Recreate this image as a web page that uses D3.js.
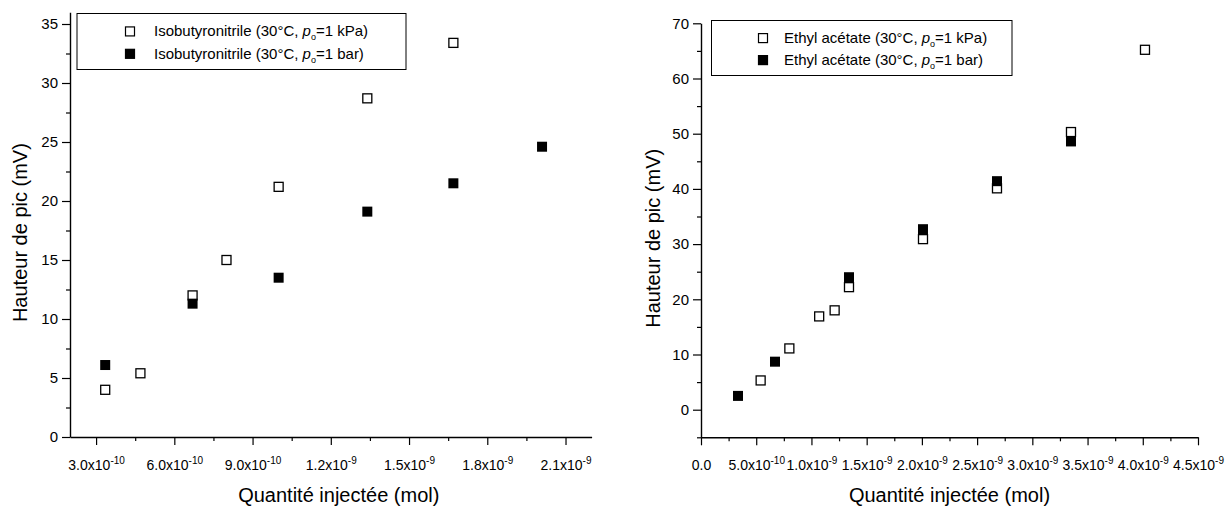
<!DOCTYPE html>
<html>
<head>
<meta charset="utf-8">
<script src="https://cdn.jsdelivr.net/npm/d3@7"></script>
<style>
  html, body { margin: 0; padding: 0; background: #fff; }
  svg { display: block; font-family: "Liberation Sans", Arial, sans-serif; }
</style>
</head>
<body>
<svg id="chart" width="1227" height="510"></svg>
<script>
// ---------- DATA ----------
// Left panel: Isobutyronitrile
const leftOpenX   = [3.35e-10, 4.7e-10, 6.7e-10, 8.0e-10, 1.0e-9, 1.34e-9, 1.67e-9];
const leftOpenY   = [4.0, 5.4, 12.0, 15.0, 21.2, 28.7, 33.4];
const leftFilledX = [3.35e-10, 6.7e-10, 1.0e-9, 1.34e-9, 1.67e-9, 2.01e-9];
const leftFilledY = [6.1, 11.3, 13.5, 19.1, 21.5, 24.6];
const leftLegend  = ["Isobutyronitrile (30°C, ", "=1 kPa)", "=1 bar)"];
const leftXTicks  = [3e-10, 6e-10, 9e-10, 1.2e-9, 1.5e-9, 1.8e-9, 2.1e-9];
const leftYTicks  = [0, 5, 10, 15, 20, 25, 30, 35];

// Right panel: Ethyl acétate
const rightOpenX   = [5.4e-10, 8.0e-10, 1.07e-9, 1.21e-9, 1.34e-9, 2.01e-9, 2.68e-9, 3.35e-9, 4.02e-9];
const rightOpenY   = [5.3, 11.1, 16.9, 18.0, 22.2, 30.9, 40.1, 50.3, 65.2];
const rightFilledX = [3.35e-10, 6.7e-10, 1.34e-9, 2.01e-9, 2.68e-9, 3.35e-9];
const rightFilledY = [2.5, 8.7, 24.0, 32.7, 41.4, 48.6];
const rightLegend  = ["Ethyl acétate (30°C, ", "=1 kPa)", "=1 bar)"];
const rightXTicks  = [0, 5e-10, 1e-9, 1.5e-9, 2e-9, 2.5e-9, 3e-9, 3.5e-9, 4e-9, 4.5e-9];
const rightYTicks  = [0, 10, 20, 30, 40, 50, 60, 70];

const xTitle = "Quantité injectée (mol)";
const yTitle = "Hauteur de pic (mV)";

// ---------- DRAW ----------
const svg = d3.select("#chart");

function sciParts(v) {
  if (v === 0) return ["0.0", ""];
  const e = Math.floor(Math.log10(Math.abs(v)) + 1e-9);
  const m = v / Math.pow(10, e);
  return [m.toFixed(1) + "x10", String(e)];
}

function panel(cfg) {
  const g = svg.append("g");
  const x = d3.scaleLinear().domain(cfg.xDomain).range(cfg.xRange);
  const y = d3.scaleLinear().domain(cfg.yDomain).range(cfg.yRange);
  const x0 = cfg.xRange[0], y0 = y(cfg.yDomain[0]);

  // minor ticks
  const gxm = g.append("g").attr("transform", `translate(0,${y0})`)
    .call(d3.axisBottom(x).tickValues(cfg.xMinor).tickSize(4).tickFormat(""));
  const gym = g.append("g").attr("transform", `translate(${x0},0)`)
    .call(d3.axisLeft(y).tickValues(cfg.yMinor).tickSize(4).tickFormat(""));
  [gxm, gym].forEach(a => { a.select(".domain").remove(); a.selectAll("line").attr("stroke", "#000").attr("stroke-width", 1.2); });

  // major x
  const gx = g.append("g").attr("transform", `translate(0,${y0})`)
    .call(d3.axisBottom(x).tickValues(cfg.xTicks).tickSize(8).tickPadding(15).tickSizeOuter(0));
  gx.select(".domain").attr("stroke", "#000").attr("stroke-width", 1.4);
  gx.selectAll("line").attr("stroke", "#000").attr("stroke-width", 1.2);
  gx.selectAll("text").attr("fill", "#000").attr("font-size", 14)
    .each(function(d) {
      const t = d3.select(this);
      const p = sciParts(d);
      t.text(null);
      t.append("tspan").text(p[0]);
      if (p[1]) t.append("tspan").attr("dy", -6).attr("font-size", 10).text(p[1]);
    });

  // major y
  const gy = g.append("g").attr("transform", `translate(${x0},0)`)
    .call(d3.axisLeft(y).tickValues(cfg.yTicks).tickSize(8).tickPadding(4).tickSizeOuter(0).tickFormat(d3.format("d")));
  gy.select(".domain").attr("stroke", "#000").attr("stroke-width", 1.4);
  gy.selectAll("line").attr("stroke", "#000").attr("stroke-width", 1.2);
  gy.selectAll("text").attr("fill", "#000").attr("font-size", 15);

  // titles
  g.append("text").attr("x", (cfg.xRange[0] + cfg.xRange[1]) / 2 + cfg.xTitleDx).attr("y", 502)
    .attr("text-anchor", "middle").attr("font-size", 20).attr("fill", "#000").text(xTitle);
  const yc = (cfg.yRange[0] + cfg.yRange[1]) / 2 + cfg.yTitleDy;
  g.append("text").attr("transform", `translate(${cfg.yTitleX},${yc}) rotate(-90)`)
    .attr("text-anchor", "middle").attr("font-size", 20).attr("fill", "#000").text(yTitle);

  // markers
  const s = 9;
  g.append("g").selectAll("rect").data(d3.zip(cfg.openX, cfg.openY)).join("rect")
    .attr("x", d => x(d[0]) - s / 2).attr("y", d => y(d[1]) - s / 2)
    .attr("width", s).attr("height", s)
    .attr("fill", "#fff").attr("stroke", "#000").attr("stroke-width", 1.3);
  g.append("g").selectAll("rect").data(d3.zip(cfg.filledX, cfg.filledY)).join("rect")
    .attr("x", d => x(d[0]) - s / 2 - 0.5).attr("y", d => y(d[1]) - s / 2 - 0.5)
    .attr("width", s + 1).attr("height", s + 1)
    .attr("fill", "#000");

  // legend
  const L = cfg.legend;
  g.append("rect").attr("x", L.x).attr("y", L.y).attr("width", L.w).attr("height", L.h)
    .attr("fill", "#fff").attr("stroke", "#000").attr("stroke-width", 1);
  const rows = [{ y: L.y + L.h * 0.32, filled: false, end: cfg.legendText[1] },
                { y: L.y + L.h * 0.72, filled: true, end: cfg.legendText[2] }];
  rows.forEach(r => {
    g.append("rect").attr("x", L.mx - s / 2).attr("y", r.y - s / 2).attr("width", s).attr("height", s)
      .attr("fill", r.filled ? "#000" : "#fff").attr("stroke", "#000").attr("stroke-width", 1.2);
    const t = g.append("text").attr("x", L.tx).attr("y", r.y + 5).attr("font-size", 15).attr("fill", "#000");
    t.append("tspan").text(cfg.legendText[0]);
    t.append("tspan").attr("font-style", "italic").text("p");
    t.append("tspan").attr("font-size", 9).attr("dy", 4).text("o");
    t.append("tspan").attr("dy", -4).text(r.end);
  });
}

const range = (a, b, step) => d3.range(Math.round((b - a) / step) + 1).map(i => a + i * step);

panel({
  xDomain: [2e-10, 2.2e-9], xRange: [70, 591.6],
  yDomain: [0, 36], yRange: [437, 12.2],
  xTicks: leftXTicks, yTicks: leftYTicks,
  xMinor: range(4.5e-10, 1.95e-9, 3e-10), yMinor: range(2.5, 32.5, 5),
  openX: leftOpenX, openY: leftOpenY, filledX: leftFilledX, filledY: leftFilledY,
  legendText: leftLegend,
  legend: { x: 77, y: 13.5, w: 329, h: 56, mx: 130, tx: 154 },
  xTitleDx: 8, yTitleX: 27, yTitleDy: 8
});

panel({
  xDomain: [0, 4.5e-9], xRange: [701, 1198],
  yDomain: [-5, 70], yRange: [437.3, 23.3],
  xTicks: rightXTicks, yTicks: rightYTicks,
  xMinor: range(2.5e-10, 4.25e-9, 5e-10), yMinor: range(-5, 65, 10),
  openX: rightOpenX, openY: rightOpenY, filledX: rightFilledX, filledY: rightFilledY,
  legendText: rightLegend,
  legend: { x: 711.5, y: 20.5, w: 300.5, h: 55, mx: 763, tx: 784 },
  xTitleDx: 0, yTitleX: 660, yTitleDy: 8
});
</script>
</body>
</html>
